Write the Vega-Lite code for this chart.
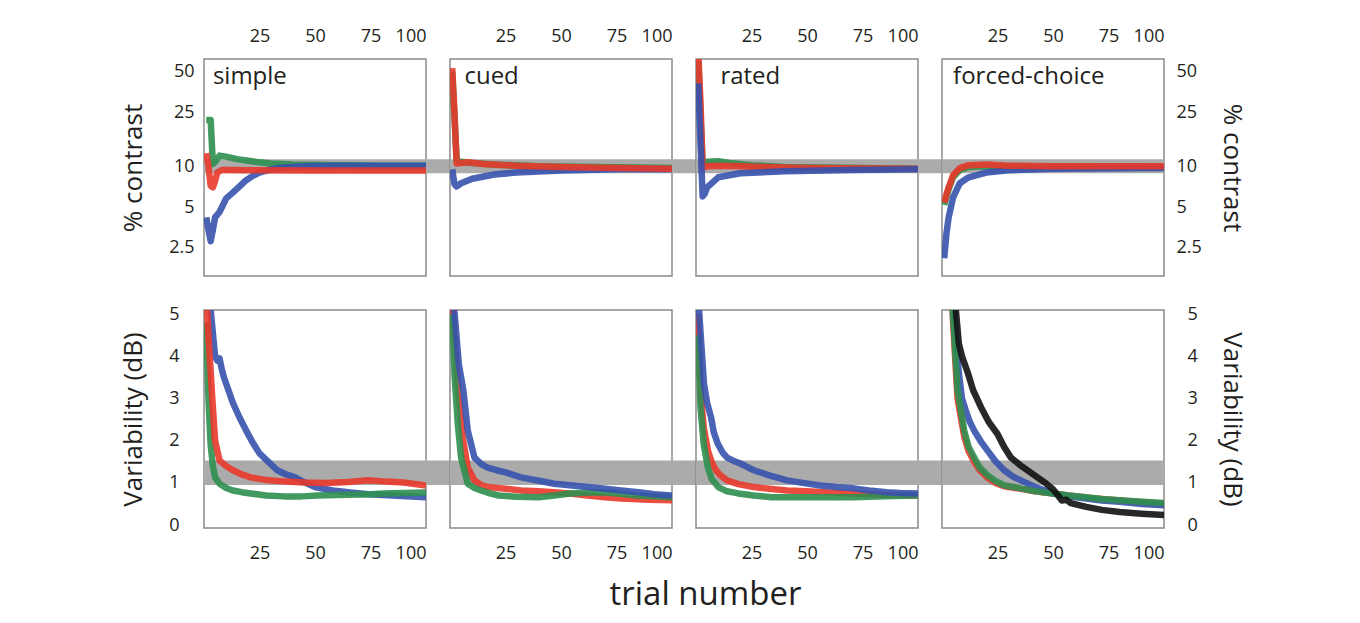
{
"$schema":"https://vega.github.io/schema/vega-lite/v6.json",
"background":"white",
"padding":{"left":119,"top":26,"right":5,"bottom":2},
"datasets":{
"band":[
{"r":"top","p":"simple","x":0,"x2":110.8,"y":8.9,"y2":11.3},
{"r":"top","p":"cued","x":0,"x2":110.8,"y":8.9,"y2":11.3},
{"r":"top","p":"rated","x":0,"x2":110.8,"y":8.9,"y2":11.3},
{"r":"top","p":"forced-choice","x":0,"x2":100,"y":8.9,"y2":11.3},
{"r":"bot","p":"simple","x":0,"x2":110.8,"y":0.95,"y2":1.53},
{"r":"bot","p":"cued","x":0,"x2":110.8,"y":0.95,"y2":1.53},
{"r":"bot","p":"rated","x":0,"x2":110.8,"y":0.95,"y2":1.53},
{"r":"bot","p":"forced-choice","x":0,"x2":100,"y":0.95,"y2":1.53}
],
"labels":[
{"p":"simple","x":4,"y":46},
{"p":"cued","x":6.5,"y":46},
{"p":"rated","x":11,"y":46},
{"p":"forced-choice","x":5,"y":46}
],
"top":[
{"p":"simple","s":"green","x":1,"y":22},{"p":"simple","s":"green","x":3,"y":22},{"p":"simple","s":"green","x":4,"y":10.4},{"p":"simple","s":"green","x":5,"y":10.8},{"p":"simple","s":"green","x":7,"y":12},{"p":"simple","s":"green","x":10,"y":11.8},{"p":"simple","s":"green","x":15,"y":11.3},{"p":"simple","s":"green","x":20,"y":11},{"p":"simple","s":"green","x":25,"y":10.7},{"p":"simple","s":"green","x":30,"y":10.5},{"p":"simple","s":"green","x":40,"y":10.3},{"p":"simple","s":"green","x":60,"y":10.2},{"p":"simple","s":"green","x":80,"y":10.1},{"p":"simple","s":"green","x":100,"y":10.1},
{"p":"simple","s":"blue","x":1,"y":4.2},{"p":"simple","s":"blue","x":2,"y":3.4},{"p":"simple","s":"blue","x":3,"y":2.8},{"p":"simple","s":"blue","x":4,"y":3.4},{"p":"simple","s":"blue","x":5,"y":4.2},{"p":"simple","s":"blue","x":7,"y":4.6},{"p":"simple","s":"blue","x":10,"y":5.8},{"p":"simple","s":"blue","x":13,"y":6.4},{"p":"simple","s":"blue","x":16,"y":7.1},{"p":"simple","s":"blue","x":19,"y":7.9},{"p":"simple","s":"blue","x":22,"y":8.5},{"p":"simple","s":"blue","x":25,"y":9},{"p":"simple","s":"blue","x":30,"y":9.5},{"p":"simple","s":"blue","x":35,"y":9.8},{"p":"simple","s":"blue","x":45,"y":10},{"p":"simple","s":"blue","x":60,"y":10.1},{"p":"simple","s":"blue","x":80,"y":10.1},{"p":"simple","s":"blue","x":100,"y":10.1},
{"p":"simple","s":"red","x":1,"y":12.5},{"p":"simple","s":"red","x":2,"y":10},{"p":"simple","s":"red","x":3,"y":7.2},{"p":"simple","s":"red","x":4,"y":7},{"p":"simple","s":"red","x":5,"y":7.8},{"p":"simple","s":"red","x":6,"y":9},{"p":"simple","s":"red","x":8,"y":9.4},{"p":"simple","s":"red","x":10,"y":9.4},{"p":"simple","s":"red","x":20,"y":9.35},{"p":"simple","s":"red","x":50,"y":9.3},{"p":"simple","s":"red","x":100,"y":9.3},
{"p":"cued","s":"green","x":1,"y":50},{"p":"cued","s":"green","x":3,"y":11},{"p":"cued","s":"green","x":5,"y":10.8},{"p":"cued","s":"green","x":10,"y":10.6},{"p":"cued","s":"green","x":20,"y":10.3},{"p":"cued","s":"green","x":40,"y":10},{"p":"cued","s":"green","x":100,"y":9.7},
{"p":"cued","s":"blue","x":1,"y":9.5},{"p":"cued","s":"blue","x":2,"y":7.4},{"p":"cued","s":"blue","x":3,"y":7.1},{"p":"cued","s":"blue","x":5,"y":7.5},{"p":"cued","s":"blue","x":10,"y":8.1},{"p":"cued","s":"blue","x":20,"y":8.7},{"p":"cued","s":"blue","x":30,"y":9},{"p":"cued","s":"blue","x":50,"y":9.3},{"p":"cued","s":"blue","x":75,"y":9.5},{"p":"cued","s":"blue","x":100,"y":9.5},
{"p":"cued","s":"red","x":1,"y":53},{"p":"cued","s":"red","x":2,"y":25},{"p":"cued","s":"red","x":3,"y":10.5},{"p":"cued","s":"red","x":5,"y":10.6},{"p":"cued","s":"red","x":8,"y":10.7},{"p":"cued","s":"red","x":15,"y":10.4},{"p":"cued","s":"red","x":30,"y":10.1},{"p":"cued","s":"red","x":50,"y":9.9},{"p":"cued","s":"red","x":75,"y":9.7},{"p":"cued","s":"red","x":100,"y":9.6},
{"p":"rated","s":"green","x":1,"y":60},{"p":"rated","s":"green","x":3,"y":10.2},{"p":"rated","s":"green","x":5,"y":10.8},{"p":"rated","s":"green","x":10,"y":10.9},{"p":"rated","s":"green","x":15,"y":10.6},{"p":"rated","s":"green","x":25,"y":10.2},{"p":"rated","s":"green","x":40,"y":9.9},{"p":"rated","s":"green","x":100,"y":9.6},
{"p":"rated","s":"red","x":1,"y":70},{"p":"rated","s":"red","x":2,"y":30},{"p":"rated","s":"red","x":3,"y":9.8},{"p":"rated","s":"red","x":5,"y":10},{"p":"rated","s":"red","x":10,"y":10.1},{"p":"rated","s":"red","x":20,"y":10},{"p":"rated","s":"red","x":50,"y":9.7},{"p":"rated","s":"red","x":100,"y":9.6},
{"p":"rated","s":"blue","x":1,"y":41},{"p":"rated","s":"blue","x":2,"y":15},{"p":"rated","s":"blue","x":3,"y":6},{"p":"rated","s":"blue","x":4,"y":6.3},{"p":"rated","s":"blue","x":5,"y":7},{"p":"rated","s":"blue","x":10,"y":8.3},{"p":"rated","s":"blue","x":20,"y":8.9},{"p":"rated","s":"blue","x":40,"y":9.2},{"p":"rated","s":"blue","x":70,"y":9.4},{"p":"rated","s":"blue","x":100,"y":9.5},
{"p":"forced-choice","s":"green","x":1,"y":5.2},{"p":"forced-choice","s":"green","x":3,"y":6.8},{"p":"forced-choice","s":"green","x":5,"y":8.3},{"p":"forced-choice","s":"green","x":8,"y":9.4},{"p":"forced-choice","s":"green","x":12,"y":9.9},{"p":"forced-choice","s":"green","x":20,"y":10},{"p":"forced-choice","s":"green","x":50,"y":9.9},{"p":"forced-choice","s":"green","x":100,"y":9.9},
{"p":"forced-choice","s":"blue","x":1,"y":2.1},{"p":"forced-choice","s":"blue","x":2,"y":3.2},{"p":"forced-choice","s":"blue","x":3,"y":4.2},{"p":"forced-choice","s":"blue","x":5,"y":5.9},{"p":"forced-choice","s":"blue","x":8,"y":7.5},{"p":"forced-choice","s":"blue","x":12,"y":8.3},{"p":"forced-choice","s":"blue","x":20,"y":9},{"p":"forced-choice","s":"blue","x":30,"y":9.35},{"p":"forced-choice","s":"blue","x":50,"y":9.6},{"p":"forced-choice","s":"blue","x":100,"y":9.7},
{"p":"forced-choice","s":"red","x":1,"y":5.4},{"p":"forced-choice","s":"red","x":2,"y":6.2},{"p":"forced-choice","s":"red","x":3,"y":7},{"p":"forced-choice","s":"red","x":5,"y":8.6},{"p":"forced-choice","s":"red","x":8,"y":9.7},{"p":"forced-choice","s":"red","x":12,"y":10.2},{"p":"forced-choice","s":"red","x":20,"y":10.3},{"p":"forced-choice","s":"red","x":30,"y":10.1},{"p":"forced-choice","s":"red","x":50,"y":10},{"p":"forced-choice","s":"red","x":100,"y":10}
],
"bot":[
{"p":"simple","s":"blue","x":2,"y":6},{"p":"simple","s":"blue","x":3,"y":5.1},{"p":"simple","s":"blue","x":5,"y":4},{"p":"simple","s":"blue","x":6,"y":3.9},{"p":"simple","s":"blue","x":7,"y":3.95},{"p":"simple","s":"blue","x":8,"y":3.7},{"p":"simple","s":"blue","x":9,"y":3.5},{"p":"simple","s":"blue","x":13,"y":2.9},{"p":"simple","s":"blue","x":16,"y":2.55},{"p":"simple","s":"blue","x":19,"y":2.24},{"p":"simple","s":"blue","x":22,"y":1.95},{"p":"simple","s":"blue","x":25,"y":1.7},{"p":"simple","s":"blue","x":29,"y":1.5},{"p":"simple","s":"blue","x":33,"y":1.3},{"p":"simple","s":"blue","x":37,"y":1.2},{"p":"simple","s":"blue","x":41,"y":1.13},{"p":"simple","s":"blue","x":45,"y":1.02},{"p":"simple","s":"blue","x":50,"y":0.9},{"p":"simple","s":"blue","x":58,"y":0.82},{"p":"simple","s":"blue","x":66,"y":0.77},{"p":"simple","s":"blue","x":74,"y":0.73},{"p":"simple","s":"blue","x":85,"y":0.7},{"p":"simple","s":"blue","x":100,"y":0.66},
{"p":"simple","s":"green","x":1,"y":4.8},{"p":"simple","s":"green","x":2,"y":3},{"p":"simple","s":"green","x":3,"y":1.9},{"p":"simple","s":"green","x":4,"y":1.4},{"p":"simple","s":"green","x":5,"y":1.13},{"p":"simple","s":"green","x":7,"y":0.98},{"p":"simple","s":"green","x":10,"y":0.88},{"p":"simple","s":"green","x":13,"y":0.82},{"p":"simple","s":"green","x":17,"y":0.78},{"p":"simple","s":"green","x":21,"y":0.75},{"p":"simple","s":"green","x":28,"y":0.7},{"p":"simple","s":"green","x":36,"y":0.68},{"p":"simple","s":"green","x":44,"y":0.68},{"p":"simple","s":"green","x":51,"y":0.7},{"p":"simple","s":"green","x":60,"y":0.71},{"p":"simple","s":"green","x":66,"y":0.72},{"p":"simple","s":"green","x":75,"y":0.73},{"p":"simple","s":"green","x":81,"y":0.75},{"p":"simple","s":"green","x":90,"y":0.76},{"p":"simple","s":"green","x":100,"y":0.77},
{"p":"simple","s":"red","x":1,"y":5.5},{"p":"simple","s":"red","x":2,"y":4.5},{"p":"simple","s":"red","x":3.5,"y":3.2},{"p":"simple","s":"red","x":5,"y":2},{"p":"simple","s":"red","x":7,"y":1.53},{"p":"simple","s":"red","x":10,"y":1.4},{"p":"simple","s":"red","x":13,"y":1.3},{"p":"simple","s":"red","x":17,"y":1.2},{"p":"simple","s":"red","x":21,"y":1.13},{"p":"simple","s":"red","x":29,"y":1.06},{"p":"simple","s":"red","x":37,"y":1.03},{"p":"simple","s":"red","x":45,"y":1.01},{"p":"simple","s":"red","x":55,"y":1},{"p":"simple","s":"red","x":65,"y":1.02},{"p":"simple","s":"red","x":74,"y":1.06},{"p":"simple","s":"red","x":82,"y":1.03},{"p":"simple","s":"red","x":90,"y":1.01},{"p":"simple","s":"red","x":100,"y":0.94},
{"p":"cued","s":"red","x":1,"y":5.5},{"p":"cued","s":"red","x":2,"y":4.5},{"p":"cued","s":"red","x":3.6,"y":3.2},{"p":"cued","s":"red","x":6,"y":2},{"p":"cued","s":"red","x":8,"y":1.36},{"p":"cued","s":"red","x":11,"y":1.06},{"p":"cued","s":"red","x":14,"y":0.95},{"p":"cued","s":"red","x":17,"y":0.9},{"p":"cued","s":"red","x":25,"y":0.86},{"p":"cued","s":"red","x":32,"y":0.82},{"p":"cued","s":"red","x":40,"y":0.8},{"p":"cued","s":"red","x":47,"y":0.78},{"p":"cued","s":"red","x":55,"y":0.74},{"p":"cued","s":"red","x":62,"y":0.7},{"p":"cued","s":"red","x":70,"y":0.66},{"p":"cued","s":"red","x":77,"y":0.63},{"p":"cued","s":"red","x":90,"y":0.6},{"p":"cued","s":"red","x":100,"y":0.59},
{"p":"cued","s":"green","x":1,"y":5},{"p":"cued","s":"green","x":2,"y":3.6},{"p":"cued","s":"green","x":3.5,"y":2.4},{"p":"cued","s":"green","x":5,"y":1.6},{"p":"cued","s":"green","x":8,"y":0.98},{"p":"cued","s":"green","x":11,"y":0.88},{"p":"cued","s":"green","x":14,"y":0.82},{"p":"cued","s":"green","x":18,"y":0.75},{"p":"cued","s":"green","x":22,"y":0.7},{"p":"cued","s":"green","x":30,"y":0.67},{"p":"cued","s":"green","x":40,"y":0.66},{"p":"cued","s":"green","x":47,"y":0.7},{"p":"cued","s":"green","x":54,"y":0.75},{"p":"cued","s":"green","x":62,"y":0.77},{"p":"cued","s":"green","x":69,"y":0.78},{"p":"cued","s":"green","x":77,"y":0.74},{"p":"cued","s":"green","x":84,"y":0.7},{"p":"cued","s":"green","x":92,"y":0.68},{"p":"cued","s":"green","x":100,"y":0.66},
{"p":"cued","s":"blue","x":1,"y":6},{"p":"cued","s":"blue","x":2,"y":5.06},{"p":"cued","s":"blue","x":4,"y":3.8},{"p":"cued","s":"blue","x":6,"y":3.2},{"p":"cued","s":"blue","x":8,"y":2.24},{"p":"cued","s":"blue","x":11,"y":1.6},{"p":"cued","s":"blue","x":14,"y":1.45},{"p":"cued","s":"blue","x":17,"y":1.36},{"p":"cued","s":"blue","x":21,"y":1.3},{"p":"cued","s":"blue","x":25,"y":1.25},{"p":"cued","s":"blue","x":32,"y":1.13},{"p":"cued","s":"blue","x":40,"y":1.05},{"p":"cued","s":"blue","x":47,"y":0.98},{"p":"cued","s":"blue","x":55,"y":0.94},{"p":"cued","s":"blue","x":62,"y":0.9},{"p":"cued","s":"blue","x":70,"y":0.86},{"p":"cued","s":"blue","x":77,"y":0.82},{"p":"cued","s":"blue","x":85,"y":0.78},{"p":"cued","s":"blue","x":92,"y":0.73},{"p":"cued","s":"blue","x":100,"y":0.7},
{"p":"rated","s":"red","x":1,"y":5},{"p":"rated","s":"red","x":2,"y":3.2},{"p":"rated","s":"red","x":3.5,"y":2.3},{"p":"rated","s":"red","x":5.4,"y":1.76},{"p":"rated","s":"red","x":7,"y":1.5},{"p":"rated","s":"red","x":9,"y":1.3},{"p":"rated","s":"red","x":11,"y":1.18},{"p":"rated","s":"red","x":14,"y":1.06},{"p":"rated","s":"red","x":19,"y":0.97},{"p":"rated","s":"red","x":26,"y":0.9},{"p":"rated","s":"red","x":33,"y":0.86},{"p":"rated","s":"red","x":41,"y":0.82},{"p":"rated","s":"red","x":50,"y":0.8},{"p":"rated","s":"red","x":60,"y":0.77},{"p":"rated","s":"red","x":71,"y":0.75},{"p":"rated","s":"red","x":85,"y":0.72},{"p":"rated","s":"red","x":100,"y":0.7},
{"p":"rated","s":"green","x":1,"y":4.5},{"p":"rated","s":"green","x":2,"y":2.8},{"p":"rated","s":"green","x":3.5,"y":1.9},{"p":"rated","s":"green","x":5.4,"y":1.36},{"p":"rated","s":"green","x":7,"y":1.1},{"p":"rated","s":"green","x":10,"y":0.9},{"p":"rated","s":"green","x":14,"y":0.8},{"p":"rated","s":"green","x":19,"y":0.75},{"p":"rated","s":"green","x":26,"y":0.7},{"p":"rated","s":"green","x":34,"y":0.66},{"p":"rated","s":"green","x":45,"y":0.66},{"p":"rated","s":"green","x":55,"y":0.66},{"p":"rated","s":"green","x":71,"y":0.66},{"p":"rated","s":"green","x":85,"y":0.68},{"p":"rated","s":"green","x":100,"y":0.7},
{"p":"rated","s":"blue","x":1,"y":5.5},{"p":"rated","s":"blue","x":1.5,"y":5},{"p":"rated","s":"blue","x":2.5,"y":4.2},{"p":"rated","s":"blue","x":3.6,"y":3.34},{"p":"rated","s":"blue","x":5,"y":2.9},{"p":"rated","s":"blue","x":6.8,"y":2.55},{"p":"rated","s":"blue","x":8,"y":2.2},{"p":"rated","s":"blue","x":9.8,"y":1.93},{"p":"rated","s":"blue","x":12,"y":1.72},{"p":"rated","s":"blue","x":14,"y":1.6},{"p":"rated","s":"blue","x":17,"y":1.52},{"p":"rated","s":"blue","x":20,"y":1.46},{"p":"rated","s":"blue","x":23,"y":1.38},{"p":"rated","s":"blue","x":26,"y":1.3},{"p":"rated","s":"blue","x":33,"y":1.18},{"p":"rated","s":"blue","x":41,"y":1.06},{"p":"rated","s":"blue","x":48,"y":1},{"p":"rated","s":"blue","x":56,"y":0.94},{"p":"rated","s":"blue","x":63,"y":0.9},{"p":"rated","s":"blue","x":71,"y":0.87},{"p":"rated","s":"blue","x":78,"y":0.82},{"p":"rated","s":"blue","x":86,"y":0.78},{"p":"rated","s":"blue","x":92,"y":0.76},{"p":"rated","s":"blue","x":100,"y":0.75},
{"p":"forced-choice","s":"red","x":4,"y":6},{"p":"forced-choice","s":"red","x":5,"y":4.8},{"p":"forced-choice","s":"red","x":7,"y":3},{"p":"forced-choice","s":"red","x":10,"y":2.1},{"p":"forced-choice","s":"red","x":12,"y":1.75},{"p":"forced-choice","s":"red","x":14.5,"y":1.5},{"p":"forced-choice","s":"red","x":17,"y":1.3},{"p":"forced-choice","s":"red","x":20.6,"y":1.12},{"p":"forced-choice","s":"red","x":24,"y":1},{"p":"forced-choice","s":"red","x":28,"y":0.92},{"p":"forced-choice","s":"red","x":35.5,"y":0.86},{"p":"forced-choice","s":"red","x":42,"y":0.8},{"p":"forced-choice","s":"red","x":50,"y":0.75},{"p":"forced-choice","s":"red","x":65,"y":0.65},{"p":"forced-choice","s":"red","x":80,"y":0.58},{"p":"forced-choice","s":"red","x":100,"y":0.5},
{"p":"forced-choice","s":"blue","x":4.5,"y":6},{"p":"forced-choice","s":"blue","x":5.4,"y":5.06},{"p":"forced-choice","s":"blue","x":7.6,"y":3.6},{"p":"forced-choice","s":"blue","x":9,"y":3},{"p":"forced-choice","s":"blue","x":10.8,"y":2.7},{"p":"forced-choice","s":"blue","x":12.5,"y":2.45},{"p":"forced-choice","s":"blue","x":14.5,"y":2.24},{"p":"forced-choice","s":"blue","x":17.5,"y":1.98},{"p":"forced-choice","s":"blue","x":20.6,"y":1.76},{"p":"forced-choice","s":"blue","x":24,"y":1.52},{"p":"forced-choice","s":"blue","x":28,"y":1.3},{"p":"forced-choice","s":"blue","x":32,"y":1.15},{"p":"forced-choice","s":"blue","x":35.5,"y":1.06},{"p":"forced-choice","s":"blue","x":42,"y":0.9},{"p":"forced-choice","s":"blue","x":50,"y":0.75},{"p":"forced-choice","s":"blue","x":57,"y":0.68},{"p":"forced-choice","s":"blue","x":65,"y":0.63},{"p":"forced-choice","s":"blue","x":72,"y":0.58},{"p":"forced-choice","s":"blue","x":80,"y":0.55},{"p":"forced-choice","s":"blue","x":90,"y":0.5},{"p":"forced-choice","s":"blue","x":100,"y":0.47},
{"p":"forced-choice","s":"green","x":4,"y":6},{"p":"forced-choice","s":"green","x":4.9,"y":5.06},{"p":"forced-choice","s":"green","x":7,"y":3.2},{"p":"forced-choice","s":"green","x":10,"y":2.24},{"p":"forced-choice","s":"green","x":12,"y":1.85},{"p":"forced-choice","s":"green","x":14.5,"y":1.6},{"p":"forced-choice","s":"green","x":17,"y":1.36},{"p":"forced-choice","s":"green","x":20.6,"y":1.18},{"p":"forced-choice","s":"green","x":24,"y":1.05},{"p":"forced-choice","s":"green","x":28,"y":0.94},{"p":"forced-choice","s":"green","x":35.5,"y":0.87},{"p":"forced-choice","s":"green","x":42,"y":0.8},{"p":"forced-choice","s":"green","x":50,"y":0.75},{"p":"forced-choice","s":"green","x":57,"y":0.7},{"p":"forced-choice","s":"green","x":65,"y":0.66},{"p":"forced-choice","s":"green","x":72,"y":0.62},{"p":"forced-choice","s":"green","x":80,"y":0.59},{"p":"forced-choice","s":"green","x":90,"y":0.55},{"p":"forced-choice","s":"green","x":100,"y":0.52},
{"p":"forced-choice","s":"black","x":5,"y":6},{"p":"forced-choice","s":"black","x":6.3,"y":5.06},{"p":"forced-choice","s":"black","x":7.6,"y":4.3},{"p":"forced-choice","s":"black","x":9,"y":4},{"p":"forced-choice","s":"black","x":11.7,"y":3.6},{"p":"forced-choice","s":"black","x":14,"y":3.2},{"p":"forced-choice","s":"black","x":17.5,"y":2.8},{"p":"forced-choice","s":"black","x":21,"y":2.45},{"p":"forced-choice","s":"black","x":25,"y":2.16},{"p":"forced-choice","s":"black","x":28,"y":1.85},{"p":"forced-choice","s":"black","x":31,"y":1.6},{"p":"forced-choice","s":"black","x":35.5,"y":1.41},{"p":"forced-choice","s":"black","x":39,"y":1.28},{"p":"forced-choice","s":"black","x":43,"y":1.13},{"p":"forced-choice","s":"black","x":47,"y":0.98},{"p":"forced-choice","s":"black","x":50,"y":0.85},{"p":"forced-choice","s":"black","x":52,"y":0.72},{"p":"forced-choice","s":"black","x":54,"y":0.58},{"p":"forced-choice","s":"black","x":56,"y":0.6},{"p":"forced-choice","s":"black","x":58,"y":0.52},{"p":"forced-choice","s":"black","x":65,"y":0.43},{"p":"forced-choice","s":"black","x":72,"y":0.36},{"p":"forced-choice","s":"black","x":80,"y":0.31},{"p":"forced-choice","s":"black","x":90,"y":0.27},{"p":"forced-choice","s":"black","x":100,"y":0.24}
]
},
"title":{"text":"trial number","orient":"bottom","anchor":"middle","fontSize":33,"font":"Open Sans","fontWeight":"normal","color":"#231f20","offset":16,"dx":23},
"columns":4,
"spacing":{"row":34,"column":24},
"bounds":"flush",
"concat":[
{"width":222,"height":217,
 "encoding":{"x":{"field":"x","type":"quantitative","scale":{"domain":[0,100]},"axis":{"orient":"top","values":[25,50,75,100],"title":null,"labelPadding":14}},
  "y":{"field":"y","type":"quantitative","scale":{"type":"log","domain":[1.55,62]},"axis":{"values":[2.5,5,10,25,50],"format":"~g","title":"% contrast","labelPadding":10,"titlePadding":22}}},
 "layer":[
  {"data":{"name":"band"},"transform":[{"filter":"datum.r=='top' && datum.p=='simple'"}],"mark":{"type":"rect","color":"#ababab","clip":false},"encoding":{"x2":{"field":"x2"},"y2":{"field":"y2"}}},
  {"data":{"name":"top"},"transform":[{"filter":"datum.p=='simple'"}],"mark":{"type":"line","strokeWidth":6.5,"clip":true,"opacity":0.9,"strokeJoin":"round"},"encoding":{"color":{"field":"s","type":"nominal","scale":{"domain":["blue","red","green","black"],"range":["#3652ad","#e8392b","#2f8f50","#111111"]},"legend":null}}},
  {"data":{"name":"labels"},"transform":[{"filter":"datum.p=='simple'"}],"mark":{"type":"text","align":"left","baseline":"middle","fontSize":24,"font":"Open Sans","color":"#231f20"},"encoding":{"text":{"field":"p"}}}
 ]},
{"width":222,"height":217,
 "encoding":{"x":{"field":"x","type":"quantitative","scale":{"domain":[0,100]},"axis":{"orient":"top","values":[25,50,75,100],"title":null,"labelPadding":14}},
  "y":{"field":"y","type":"quantitative","scale":{"type":"log","domain":[1.55,62]},"axis":null}},
 "layer":[
  {"data":{"name":"band"},"transform":[{"filter":"datum.r=='top' && datum.p=='cued'"}],"mark":{"type":"rect","color":"#ababab","clip":false},"encoding":{"x2":{"field":"x2"},"y2":{"field":"y2"}}},
  {"data":{"name":"top"},"transform":[{"filter":"datum.p=='cued'"}],"mark":{"type":"line","strokeWidth":6.5,"clip":true,"opacity":0.9,"strokeJoin":"round"},"encoding":{"color":{"field":"s","type":"nominal","scale":{"domain":["blue","red","green","black"],"range":["#3652ad","#e8392b","#2f8f50","#111111"]},"legend":null}}},
  {"data":{"name":"labels"},"transform":[{"filter":"datum.p=='cued'"}],"mark":{"type":"text","align":"left","baseline":"middle","fontSize":24,"font":"Open Sans","color":"#231f20"},"encoding":{"text":{"field":"p"}}}
 ]},
{"width":222,"height":217,
 "encoding":{"x":{"field":"x","type":"quantitative","scale":{"domain":[0,100]},"axis":{"orient":"top","values":[25,50,75,100],"title":null,"labelPadding":14}},
  "y":{"field":"y","type":"quantitative","scale":{"type":"log","domain":[1.55,62]},"axis":null}},
 "layer":[
  {"data":{"name":"band"},"transform":[{"filter":"datum.r=='top' && datum.p=='rated'"}],"mark":{"type":"rect","color":"#ababab","clip":false},"encoding":{"x2":{"field":"x2"},"y2":{"field":"y2"}}},
  {"data":{"name":"top"},"transform":[{"filter":"datum.p=='rated'"}],"mark":{"type":"line","strokeWidth":6.5,"clip":true,"opacity":0.9,"strokeJoin":"round"},"encoding":{"color":{"field":"s","type":"nominal","scale":{"domain":["blue","red","green","black"],"range":["#3652ad","#e8392b","#2f8f50","#111111"]},"legend":null}}},
  {"data":{"name":"labels"},"transform":[{"filter":"datum.p=='rated'"}],"mark":{"type":"text","align":"left","baseline":"middle","fontSize":24,"font":"Open Sans","color":"#231f20"},"encoding":{"text":{"field":"p"}}}
 ]},
{"width":222,"height":217,
 "encoding":{"x":{"field":"x","type":"quantitative","scale":{"domain":[0,100]},"axis":{"orient":"top","values":[25,50,75,100],"title":null,"labelPadding":14}},
  "y":{"field":"y","type":"quantitative","scale":{"type":"log","domain":[1.55,62]},"axis":{"orient":"right","values":[2.5,5,10,25,50],"format":"~g","title":"% contrast","labelPadding":12,"titlePadding":17}}},
 "layer":[
  {"data":{"name":"band"},"transform":[{"filter":"datum.r=='top' && datum.p=='forced-choice'"}],"mark":{"type":"rect","color":"#ababab","clip":false},"encoding":{"x2":{"field":"x2"},"y2":{"field":"y2"}}},
  {"data":{"name":"top"},"transform":[{"filter":"datum.p=='forced-choice'"}],"mark":{"type":"line","strokeWidth":6.5,"clip":true,"opacity":0.9,"strokeJoin":"round"},"encoding":{"color":{"field":"s","type":"nominal","scale":{"domain":["blue","red","green","black"],"range":["#3652ad","#e8392b","#2f8f50","#111111"]},"legend":null}}},
  {"data":{"name":"labels"},"transform":[{"filter":"datum.p=='forced-choice'"}],"mark":{"type":"text","align":"left","baseline":"middle","fontSize":24,"font":"Open Sans","color":"#231f20"},"encoding":{"text":{"field":"p"}}}
 ]},
{"width":222,"height":218,
 "encoding":{"x":{"field":"x","type":"quantitative","scale":{"domain":[0,100]},"axis":{"values":[25,50,75,100],"title":null,"labelPadding":16}},
  "y":{"field":"y","type":"quantitative","scale":{"domain":[-0.07,5.1],"nice":false},"axis":{"values":[0,1,2,3,4,5],"title":"Variability (dB)","labelPadding":25,"titlePadding":22}}},
 "layer":[
  {"data":{"name":"band"},"transform":[{"filter":"datum.r=='bot' && datum.p=='simple'"}],"mark":{"type":"rect","color":"#ababab","clip":false},"encoding":{"x2":{"field":"x2"},"y2":{"field":"y2"}}},
  {"data":{"name":"bot"},"transform":[{"filter":"datum.p=='simple'"}],"mark":{"type":"line","strokeWidth":6.5,"clip":true,"opacity":0.9,"strokeJoin":"round"},"encoding":{"color":{"field":"s","type":"nominal","scale":{"domain":["blue","red","green","black"],"range":["#3652ad","#e8392b","#2f8f50","#111111"]},"legend":null}}}
 ]},
{"width":222,"height":218,
 "encoding":{"x":{"field":"x","type":"quantitative","scale":{"domain":[0,100]},"axis":{"values":[25,50,75,100],"title":null,"labelPadding":16}},
  "y":{"field":"y","type":"quantitative","scale":{"domain":[-0.07,5.1],"nice":false},"axis":null}},
 "layer":[
  {"data":{"name":"band"},"transform":[{"filter":"datum.r=='bot' && datum.p=='cued'"}],"mark":{"type":"rect","color":"#ababab","clip":false},"encoding":{"x2":{"field":"x2"},"y2":{"field":"y2"}}},
  {"data":{"name":"bot"},"transform":[{"filter":"datum.p=='cued'"}],"mark":{"type":"line","strokeWidth":6.5,"clip":true,"opacity":0.9,"strokeJoin":"round"},"encoding":{"color":{"field":"s","type":"nominal","scale":{"domain":["blue","red","green","black"],"range":["#3652ad","#e8392b","#2f8f50","#111111"]},"legend":null}}}
 ]},
{"width":222,"height":218,
 "encoding":{"x":{"field":"x","type":"quantitative","scale":{"domain":[0,100]},"axis":{"values":[25,50,75,100],"title":null,"labelPadding":16}},
  "y":{"field":"y","type":"quantitative","scale":{"domain":[-0.07,5.1],"nice":false},"axis":null}},
 "layer":[
  {"data":{"name":"band"},"transform":[{"filter":"datum.r=='bot' && datum.p=='rated'"}],"mark":{"type":"rect","color":"#ababab","clip":false},"encoding":{"x2":{"field":"x2"},"y2":{"field":"y2"}}},
  {"data":{"name":"bot"},"transform":[{"filter":"datum.p=='rated'"}],"mark":{"type":"line","strokeWidth":6.5,"clip":true,"opacity":0.9,"strokeJoin":"round"},"encoding":{"color":{"field":"s","type":"nominal","scale":{"domain":["blue","red","green","black"],"range":["#3652ad","#e8392b","#2f8f50","#111111"]},"legend":null}}}
 ]},
{"width":222,"height":218,
 "encoding":{"x":{"field":"x","type":"quantitative","scale":{"domain":[0,100]},"axis":{"values":[25,50,75,100],"title":null,"labelPadding":16}},
  "y":{"field":"y","type":"quantitative","scale":{"domain":[-0.07,5.1],"nice":false},"axis":{"orient":"right","values":[0,1,2,3,4,5],"title":"Variability (dB)","labelPadding":23,"titlePadding":21}}},
 "layer":[
  {"data":{"name":"band"},"transform":[{"filter":"datum.r=='bot' && datum.p=='forced-choice'"}],"mark":{"type":"rect","color":"#ababab","clip":false},"encoding":{"x2":{"field":"x2"},"y2":{"field":"y2"}}},
  {"data":{"name":"bot"},"transform":[{"filter":"datum.p=='forced-choice'"}],"mark":{"type":"line","strokeWidth":6.5,"clip":true,"opacity":0.9,"strokeJoin":"round"},"encoding":{"color":{"field":"s","type":"nominal","scale":{"domain":["blue","red","green","black"],"range":["#3652ad","#e8392b","#2f8f50","#111111"]},"legend":null}}}
 ]}
],
"config":{
 "view":{"stroke":"#8a8a8a","strokeWidth":1.5},
 "axis":{"domain":false,"ticks":false,"grid":false,"labelFont":"Open Sans","labelFontSize":18,"labelColor":"#231f20","titleFont":"Open Sans","titleFontSize":26,"titleFontWeight":"normal","titleColor":"#231f20"}
}
}
